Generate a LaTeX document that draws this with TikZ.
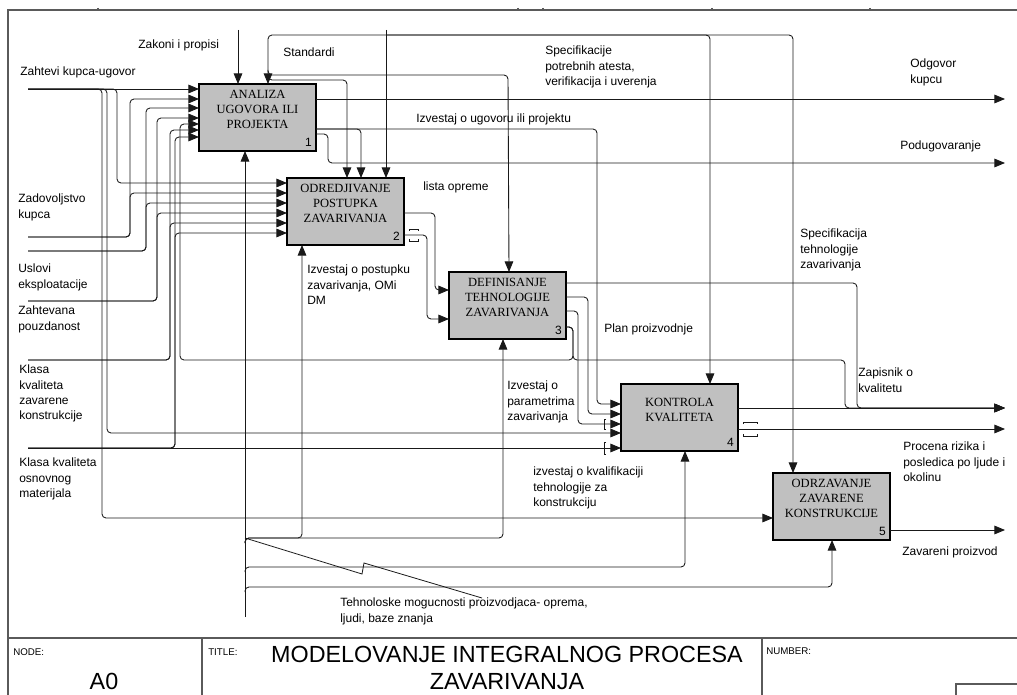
\documentclass[tikz,border=0pt]{standalone}
\usepackage{fontspec}
\setmainfont{Liberation Sans}
\newfontfamily\serifbox{Liberation Serif}
\usetikzlibrary{arrows.meta,calc}
\definecolor{boxgray}{RGB}{192,192,192}
\definecolor{ln}{RGB}{25,25,25}
\definecolor{framec}{RGB}{90,90,90}
\begin{document}
\begin{tikzpicture}[x=0.75pt,y=-0.75pt,
  flow/.style={draw=ln,line width=0.65pt,rounded corners=3pt},
  arr/.style={flow,-{Triangle[length=8pt,width=6.5pt]}},
  box/.style={draw=black,line width=1.6pt,fill=boxgray,minimum width=87.75pt,minimum height=50.25pt,inner sep=0pt,outer sep=0pt},
  boxtxt/.style={font=\serifbox\fontsize{9.4}{11.3}\selectfont,align=center,inner sep=0pt},
  num/.style={font=\fontsize{9}{10}\selectfont,anchor=south east,inner sep=0pt},
  lbl/.style={font=\fontsize{9}{11.3}\selectfont,align=left,anchor=north west,inner sep=0pt,execute at begin node=\strut},
  tun/.style={draw=ln,line width=0.6pt},
  fr/.style={draw=framec,line width=1pt},
  small/.style={font=\fontsize{7.3}{8}\selectfont,anchor=west,inner sep=0pt},
  big/.style={font=\fontsize{17.5}{21}\selectfont,inner sep=0pt}
]
\useasboundingbox (0,0) rectangle (1017,695);
% frame
\draw[fr] (8,695) -- (8,10) -- (1017,10);
\draw[fr] (8,638) -- (1017,638);
\draw[fr] (202,638) -- (202,695);
\draw[fr] (762,638) -- (762,695);
\draw[fr] (956,695) -- (956,684) -- (1017,684);
\foreach \x in {98,518,543,712,870} \draw[fr,line width=0.8pt] (\x,8) -- (\x,10);

% boxes
\node[box] (b1) at (257.5,117.5) {};
\node[box] (b2) at (345.5,211.5) {};
\node[box] (b3) at (507.5,305.5) {};
\node[box] (b4) at (679.5,417.5) {};
\node[box] (b5) at (831.5,506.5) {};
\node[boxtxt] (t1) at ($(b1.center)+(0,-8)$) {ANALIZA\\UGOVORA ILI\\PROJEKTA};
\node[boxtxt] (t2) at ($(b2.center)+(0,-8)$) {ODREDJIVANJE\\POSTUPKA\\ZAVARIVANJA};
\node[boxtxt] (t3) at ($(b3.center)+(0,-8)$) {DEFINISANJE\\TEHNOLOGIJE\\ZAVARIVANJA};
\node[boxtxt] (t4) at ($(b4.center)+(0,-8)$) {KONTROLA\\KVALITETA};
\node[boxtxt] (t5) at ($(b5.center)+(0,-8)$) {ODRZAVANJE\\ZAVARENE\\KONSTRUKCIJE};
\node[num] (n1) at ($(b1.south east)+(-4,-4)$) {1};
\node[num] (n2) at ($(b2.south east)+(-4,-4)$) {2};
\node[num] (n3) at ($(b3.south east)+(-4,-4)$) {3};
\node[num] (n4) at ($(b4.south east)+(-4,-4)$) {4};
\node[num] (n5) at ($(b5.south east)+(-4,-4)$) {5};

% free ends
\coordinate (iZ) at (28,89);
\coordinate (iK) at (28,237);
\coordinate (iU) at (28,251);
\coordinate (iP) at (28,301);
\coordinate (iKz) at (28,360);
\coordinate (iKo) at (28,448);
\coordinate (cZ) at (238,30);
\coordinate (cS) at (386,30);
\coordinate (mT) at (245,617);
\coordinate (oOdg) at (1005,99);
\coordinate (oPod) at (1005,163);
\coordinate (oZap) at (1005,408);
\coordinate (oPro) at (1005,429);
\coordinate (oZav) at (1005,530);

% left inputs
\draw[arr] (iZ) -- ($(b1.north west)+(0,5)$);
\draw[arr] (iZ) -- (117,89) -- (117,183) -- ($(b2.north west)+(0,5)$);
\draw[arr] (iZ) -- (107,89) -- (107,433) -- ($(b4.north west)+(0,49)$);
\draw[arr] (iZ) -- (102,89) -- (102,518) -- ($(b5.north west)+(0,45)$);
\draw[arr] (iK) -- (130,237) -- (130,99) -- ($(b1.north west)+(0,15)$);
\draw[arr] (iK) -- (130,237) -- (130,193) -- ($(b2.north west)+(0,15)$);
\draw[arr] (iU) -- (146,251) -- (146,108) -- ($(b1.north west)+(0,24)$);
\draw[arr] (iU) -- (146,251) -- (146,203) -- ($(b2.north west)+(0,25)$);
\draw[arr] (iP) -- (157,301) -- (157,118) -- ($(b1.north west)+(0,34)$);
\draw[arr] (iP) -- (157,301) -- (157,213) -- ($(b2.north west)+(0,35)$);
\draw[arr] (iKz) -- (170,360) -- (170,130) -- ($(b1.north west)+(0,46)$);
\draw[arr] (iKz) -- (170,360) -- (170,223) -- ($(b2.north west)+(0,45)$);
\draw[arr] (iKo) -- (175,448) -- (175,137) -- ($(b1.north west)+(0,53)$);
\draw[arr] (iKo) -- (175,448) -- (175,233) -- ($(b2.north west)+(0,55)$);
\draw[arr] (iKo) -- ($(b4.north west)+(0,64)$);

% controls
\coordinate (jS) at (386,35);
\coordinate (jA) at (268,70);
\coordinate (jB) at (268,75);
\draw[arr] (cZ) -- ($(b1.north west)+(39,0)$);
\draw[arr] (cS) -- ($(b2.north west)+(99,0)$);
\draw[arr] (jS) -- (268,35) -- ($(b1.north west)+(69,0)$);
\draw[arr] (jS) -- (710,35) -- ($(b4.north west)+(89,0)$);
\draw[arr] (jS) -- (793,35) -- ($(b5.north west)+(20,0)$);
\draw[arr] (jA) -- (268,75) -- (508,75) -- ($(b3.north west)+(60,0)$);
\draw[arr] (jB) -- (268,80) -- (347,80) -- ($(b2.north west)+(60,0)$);

% box 1 outputs
\draw[arr] ($(b1.north east)+(0,15)$) -- (oOdg);
\draw[arr] ($(b1.north east)+(0,45)$) -- (361,129) -- ($(b2.north west)+(74,0)$);
\draw[arr] ($(b1.north east)+(0,45)$) -- (597,129) -- (597,404) -- ($(b4.north west)+(0,20)$);
\draw[arr] ($(b1.north east)+(0,50)$) -- (328,134) -- (328,163) -- (oPod);

% box 2 outputs
\draw[arr] ($(b2.north east)+(0,35)$) -- (435,213) -- (435,290) -- ($(b3.north west)+(0,18)$);
\draw[arr] ($(b2.north east)+(0,57)$) -- (427,235) -- (427,319) -- ($(b3.north west)+(0,47)$);
\draw[tun] (409,231) -- (409,229) -- (418,229) -- (418,231);
\draw[tun] (409,239) -- (409,241) -- (418,241) -- (418,239);

% box 3 outputs
\draw[arr] ($(b3.north east)+(0,11)$) -- (857,283) -- (857,408) -- (oZap);
\draw[arr] ($(b3.north east)+(0,25)$) -- (588,297) -- (588,414) -- ($(b4.north west)+(0,30)$);
\draw[arr] ($(b3.north east)+(0,39)$) -- (578,311) -- (578,424) -- ($(b4.north west)+(0,40)$);
\draw[arr] ($(b3.north east)+(0,55)$) -- (573,327) -- (573,360) -- (180,360) -- (180,124) -- ($(b1.north west)+(0,40)$);
\draw[arr] ($(b3.north east)+(0,55)$) -- (573,327) -- (573,360) -- (845,360) -- (845,408) -- (oZap);

% box 4 outputs
\draw[arr] ($(b4.north east)+(0,24)$) -- (oZap);
\draw[arr] ($(b4.north east)+(0,45)$) -- (oPro);
\draw[tun] (743,424) -- (743,422) -- (757,422) -- (757,424);
\draw[tun] (743,434) -- (743,436) -- (757,436) -- (757,434);
% tunnels at box 4 inputs
\draw[tun] (606,419) -- (604,419) -- (604,429) -- (606,429);
\draw[tun] (606,442) -- (604,442) -- (604,454) -- (606,454);

% box 5 output
\draw[arr] ($(b5.north east)+(0,57)$) -- (oZav);

% mechanisms
\coordinate (m1) at (245,543);
\coordinate (m2) at (245,572);
\coordinate (m3) at (245,592);
\draw[arr] (mT) -- ($(b1.south west)+(46,0)$);
\draw[arr] (m1) -- (245,538) -- (302,538) -- ($(b2.south west)+(15,0)$);
\draw[arr] (m1) -- (245,538) -- (503,538) -- ($(b3.south west)+(54,0)$);
\draw[arr] (m2) -- (245,567) -- (685,567) -- ($(b4.south west)+(64,0)$);
\draw[arr] (m3) -- (245,587) -- (832,587) -- ($(b5.south west)+(59,0)$);
\coordinate (sq) at (482,598);
\draw[draw=ln,line width=0.6pt] (245,538) -- (362,574) -- (364,563) -- (sq);

% labels
\node[lbl] (l1) at (138,38) {Zakoni i propisi};
\node[lbl] (l2) at (283,46) {Standardi};
\node[lbl] (l3) at (20,65) {Zahtevi kupca-ugovor};
\node[lbl] (l4) at (18,194) {Zadovoljstvo\\kupca};
\node[lbl] (l5) at (18,264) {Uslovi\\eksploatacije};
\node[lbl] (l6) at (18,306) {Zahtevana\\pouzdanost};
\node[lbl] (l7) at (19,365) {Klasa\\kvaliteta\\zavarene\\konstrukcije};
\node[lbl] (l8) at (19,458) {Klasa kvaliteta\\osnovnog\\materijala};
\node[lbl] (l9) at (545,46) {Specifikacije\\potrebnih atesta,\\verifikacija i uverenja};
\node[lbl] (l10) at (416,112) {Izvestaj o ugovoru ili projektu};
\node[lbl] (l11) at (910,59) {Odgovor\\kupcu};
\node[lbl] (l12) at (900,139) {Podugovaranje};
\node[lbl] (l13) at (423,180) {lista opreme};
\node[lbl] (l14) at (800,229) {Specifikacija\\tehnologije\\zavarivanja};
\node[lbl] (l15) at (307,265) {Izvestaj o postupku\\zavarivanja, OMi\\DM};
\node[lbl] (l16) at (604,322) {Plan proizvodnje};
\node[lbl] (l17) at (507,381) {Izvestaj o\\parametrima\\zavarivanja};
\node[lbl] (l18) at (858,368) {Zapisnik o\\kvalitetu};
\node[lbl] (l19) at (903,442) {Procena rizika i\\posledica po ljude i\\okolinu};
\node[lbl] (l20) at (533,467) {izvestaj o kvalifikaciji\\tehnologije za\\konstrukciju};
\node[lbl] (l21) at (902,545) {Zavareni proizvod};
\node[lbl] (l22) at (340,598) {Tehnoloske mogucnosti proizvodjaca- oprema,\\ljudi, baze znanja};

% title block
\node[small] (tn) at (13,652) {NODE:};
\node[small] (tt) at (208,652) {TITLE:};
\node[small] (tnum) at (766,651) {NUMBER:};
\node[big] (a0) at (104,681) {A0};
\node[big] (ttl1) at (507,654) {MODELOVANJE INTEGRALNOG PROCESA};
\node[big] (ttl2) at (507,682) {ZAVARIVANJA};
\end{tikzpicture}
\end{document}
